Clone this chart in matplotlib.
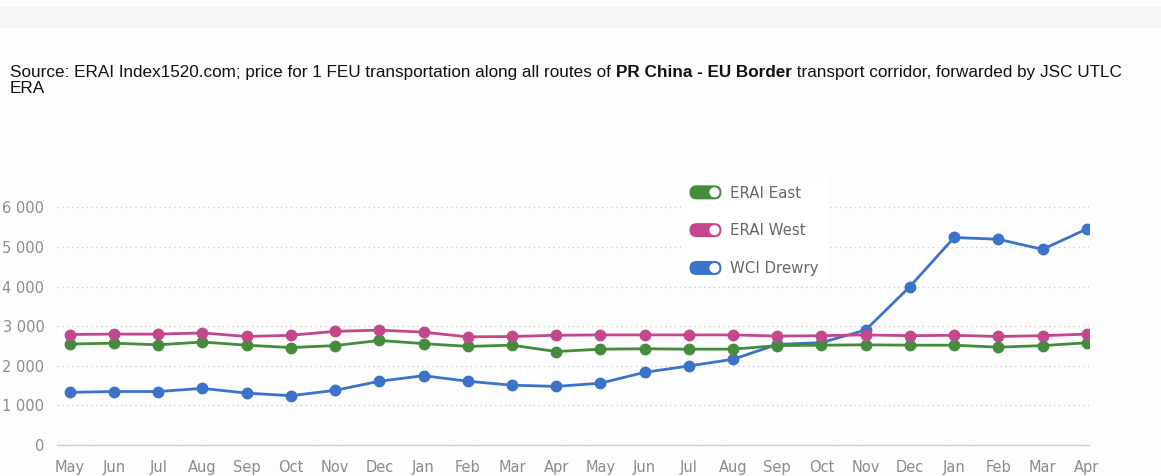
import matplotlib.pyplot as plt
from matplotlib.legend_handler import HandlerBase
from matplotlib.lines import Line2D
from matplotlib.patches import FancyBboxPatch, Circle, Rectangle

# data
months = ['May', 'Jun', 'Jul', 'Aug', 'Sep', 'Oct', 'Nov', 'Dec', 'Jan', 'Feb', 'Mar', 'Apr',
          'May', 'Jun', 'Jul', 'Aug', 'Sep', 'Oct', 'Nov', 'Dec', 'Jan', 'Feb', 'Mar', 'Apr']
erai_east = [2550, 2570, 2530, 2600, 2520, 2460, 2510, 2640, 2560, 2490, 2520, 2360,
             2420, 2430, 2420, 2420, 2510, 2520, 2530, 2520, 2520, 2470, 2510, 2580]
erai_west = [2790, 2800, 2800, 2830, 2740, 2770, 2870, 2900, 2850, 2730, 2740, 2770,
             2780, 2780, 2780, 2780, 2750, 2760, 2780, 2760, 2770, 2740, 2760, 2800]
wci_drewry = [1330, 1350, 1350, 1430, 1310, 1245, 1380, 1610, 1750, 1610, 1510, 1480,
              1560, 1835, 1995, 2165, 2540, 2585, 2905, 4000, 5240, 5195, 4940, 5455]
y_ticks = [0, 1000, 2000, 3000, 4000, 5000, 6000]

green = '#448c3b'
pink = '#c2478b'
blue = '#3a73c9'
label_grey = '#8c8c8c'


# toggle-switch style legend icon
class PillHandler(HandlerBase):
    def create_artists(self, legend, orig_handle, xdescent, ydescent,
                       width, height, fontsize, trans):
        h = 10.1
        y0 = -ydescent + (height - h) / 2
        x0 = -xdescent
        pill = FancyBboxPatch((x0, y0), width, h,
                              boxstyle=f"round,pad=0,rounding_size={h / 2}",
                              facecolor=orig_handle.get_color(), edgecolor='none',
                              transform=trans)
        dot = Circle((x0 + width - h / 2, y0 + h / 2), h * 0.36,
                     facecolor='white', edgecolor='none', transform=trans)
        return [pill, dot]


fig = plt.figure(figsize=(11.61, 4.76), dpi=100, facecolor='#fdfdfd')
fig.patches.append(Rectangle((0, 1 - 28 / 476), 1, 21 / 476, transform=fig.transFigure,
                             facecolor='#f6f6f6', edgecolor='none', zorder=0))

ax = fig.add_axes([57 / 1161, 31 / 476, 1032 / 1161, 249.5 / 476])
ax.set_facecolor('none')

x = list(range(len(months)))
l_blue, = ax.plot(x, wci_drewry, color=blue, lw=2, marker='o', ms=7.5, zorder=3)
l_green, = ax.plot(x, erai_east, color=green, lw=2, marker='o', ms=7.5, zorder=4)
l_pink, = ax.plot(x, erai_west, color=pink, lw=2, marker='o', ms=7.5, zorder=5)

ax.set_xlim(-0.29, 23.05)
ax.set_ylim(0, 6300)
ax.set_xticks(x)
ax.set_xticklabels(months)
ax.set_yticks(y_ticks)
ax.set_yticklabels([f'{v:,}'.replace(',', ' ') for v in y_ticks])
for side in ['top', 'right', 'left']:
    ax.spines[side].set_visible(False)
ax.spines['bottom'].set_color('#cccccc')
ax.spines['bottom'].set_linewidth(1)
ax.tick_params(length=0, labelsize=10.5, labelcolor=label_grey)
ax.tick_params(axis='x', pad=11)
ax.tick_params(axis='y', pad=9)
for lab in ax.get_xticklabels() + ax.get_yticklabels():
    lab.set_family('DejaVu Sans')
ax.grid(axis='y', color='#cfcfcf', linestyle=(0, (1, 2.5)), lw=1)
ax.set_axisbelow(True)

leg = ax.legend([l_green, l_pink, l_blue], ['ERAI East', 'ERAI West', 'WCI Drewry'],
                handler_map={Line2D: PillHandler()},
                loc='upper left', bbox_to_anchor=(673 / 1161, 1 - 169 / 476),
                bbox_transform=fig.transFigure, prop={'family': 'DejaVu Sans', 'size': 10.8},
                handlelength=2.13, handleheight=1.0, handletextpad=0.6, labelspacing=1.52,
                borderpad=0.6, frameon=True, fancybox=False, framealpha=1,
                facecolor='white', edgecolor='none', labelcolor='#666666')
leg.set_zorder(10)

# caption with bold corridor name
cap = dict(family='Liberation Sans', fontsize=12.35, color='#111111')
t1 = fig.text(10 / 1161, 1 - 77 / 476,
              'Source: ERAI Index1520.com; price for 1 FEU transportation along all routes of ',
              va='baseline', **cap)
a2 = ax.annotate('PR China - EU Border', xy=(1, 0), xycoords=t1, va='bottom',
                 fontweight='bold', annotation_clip=False, **cap)
a3 = ax.annotate(' transport corridor, forwarded by JSC UTLC', xy=(1, 0), xycoords=a2,
                 va='bottom', annotation_clip=False, **cap)
fig.text(10 / 1161, 1 - 93 / 476, 'ERA', va='baseline', **cap)

fig.savefig('out.png', dpi=100, facecolor=fig.get_facecolor())
